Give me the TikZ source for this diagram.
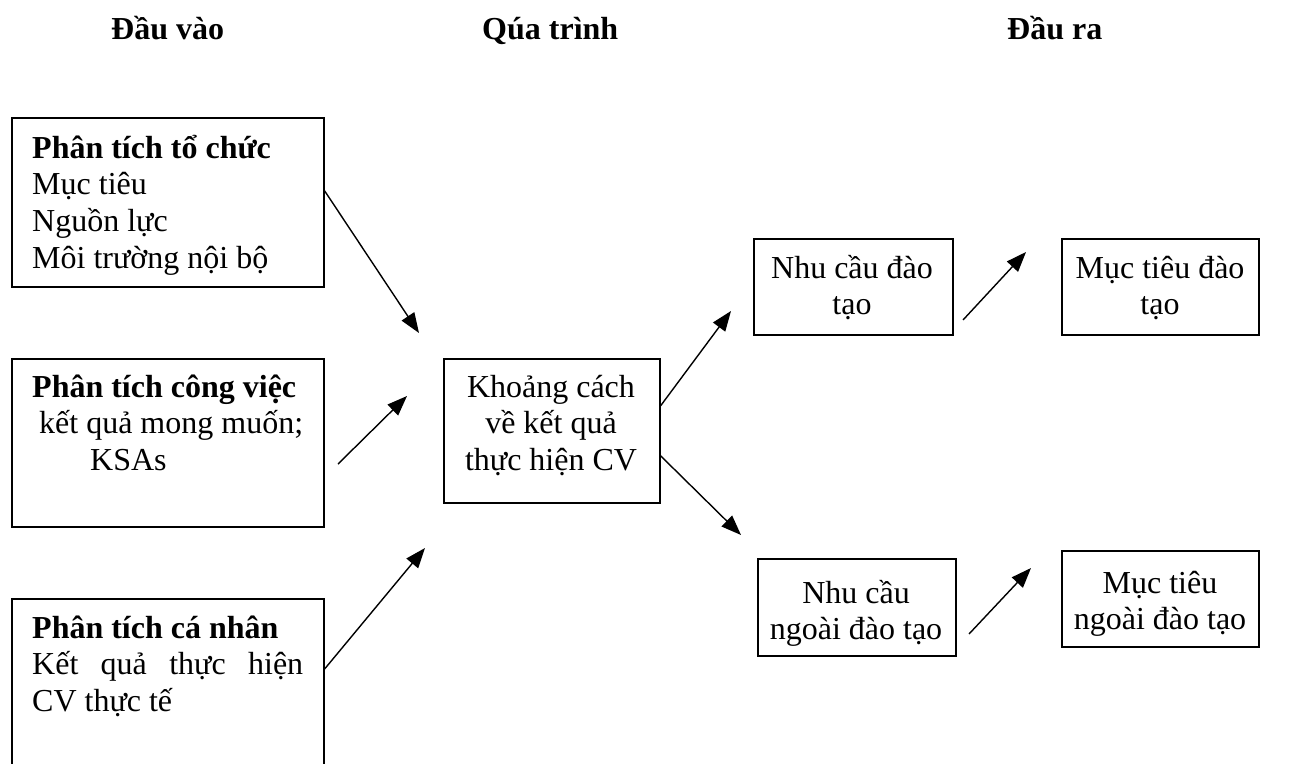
\documentclass[tikz,border=0pt]{standalone}
\usepackage{fontspec}
\setmainfont{Liberation Serif}
\usetikzlibrary{arrows.meta}

\newcommand{\linesL}[1]{\begin{tabular}[t]{@{}l@{}}#1\end{tabular}}
\newcommand{\linesC}[1]{\begin{tabular}[t]{@{}c@{}}#1\end{tabular}}

\tikzset{
  frame/.style={draw, line width=1.6pt, inner sep=0pt, anchor=north west},
  txt/.style={inner sep=0pt, anchor=base west, font=\fontsize{32}{36.7}\selectfont},
  ctxt/.style={inner sep=0pt, anchor=base, font=\fontsize{32}{36.7}\selectfont},
  head/.style={inner sep=0pt, anchor=base west, font=\bfseries\fontsize{32}{36.7}\selectfont},
  link/.style={line width=1.4pt, -{Triangle[length=20pt,width=15pt]}},
}

\begin{document}
\begin{tikzpicture}[x=1pt,y=-1pt]
\useasboundingbox[fill=white] (0,0) rectangle (1313,763);
\clip (0,0) rectangle (1313,763);

% column headings
\node[head] (hin)  at (111,39)  {Đầu vào};
\node[head] (hpro) at (482,39)  {Qúa trình};
\node[head] (hout) at (1007,39) {Đầu ra};

% input boxes
\node[frame, minimum width=312pt, minimum height=169pt] (org) at (11,117) {};
\node[frame, minimum width=312pt, minimum height=168pt] (job) at (11,358) {};
\node[frame, minimum width=312pt, minimum height=200pt] (ind) at (11,598) {};

\node[txt] (orgt) at (32,158) {\linesL{\textbf{Phân tích tổ chức}\\ Mục tiêu\\ Nguồn lực\\ Môi trường nội bộ}};
\node[txt] (jobt) at (32,397) {\linesL{\textbf{Phân tích công việc}\\ \hspace*{7pt}kết quả mong muốn;\\ \hspace*{58pt}KSAs}};
\node[txt] (indt) at (32,638) {\linesL{\textbf{Phân tích cá nhân}\\ \makebox[271pt][s]{Kết quả thực hiện}\\ CV thực tế}};

% process box
\node[frame, minimum width=216pt, minimum height=144pt] (gap) at (443,358) {};
\node[ctxt] (gapt) at (551,397) {\linesC{Khoảng cách\\ về kết quả\\ thực hiện CV}};

% output boxes
\node[frame, minimum width=199pt, minimum height=96pt] (need)  at (753,238)  {};
\node[frame, minimum width=197pt, minimum height=96pt] (goal)  at (1061,238) {};
\node[frame, minimum width=198pt, minimum height=97pt] (oneed) at (757,558)  {};
\node[frame, minimum width=197pt, minimum height=96pt] (ogoal) at (1061,550) {};

\node[ctxt] (needt)  at (852,278)  {\linesC{Nhu cầu đào\\ tạo}};
\node[ctxt] (goalt)  at (1160,278) {\linesC{Mục tiêu đào\\ tạo}};
\node[ctxt] (oneedt) at (856,603)  {\linesC{Nhu cầu\\ ngoài đào tạo}};
\node[ctxt] (ogoalt) at (1160,593) {\linesC{Mục tiêu\\ ngoài đào tạo}};

% free arrow ends
\coordinate (t1) at (419,333);
\coordinate (s2) at (338,464);
\coordinate (t2) at (407,396);
\coordinate (t3) at (425,548);
\coordinate (t4) at (731,311);
\coordinate (t5) at (741,535);
\coordinate (s6) at (963,320);
\coordinate (t6) at (1026,252);
\coordinate (s7) at (969,634);
\coordinate (t7) at (1031,568);

% connectors
\draw[link] ([yshift=11.5pt]org.east) -- (t1);
\draw[link] (s2) -- (t2);
\draw[link] ([yshift=-71pt]ind.north east) -- (t3);
\draw[link] ([yshift=25pt]gap.east) -- (t4);
\draw[link] ([yshift=-25pt]gap.east) -- (t5);
\draw[link] (s6) -- (t6);
\draw[link] (s7) -- (t7);
\end{tikzpicture}
\end{document}
